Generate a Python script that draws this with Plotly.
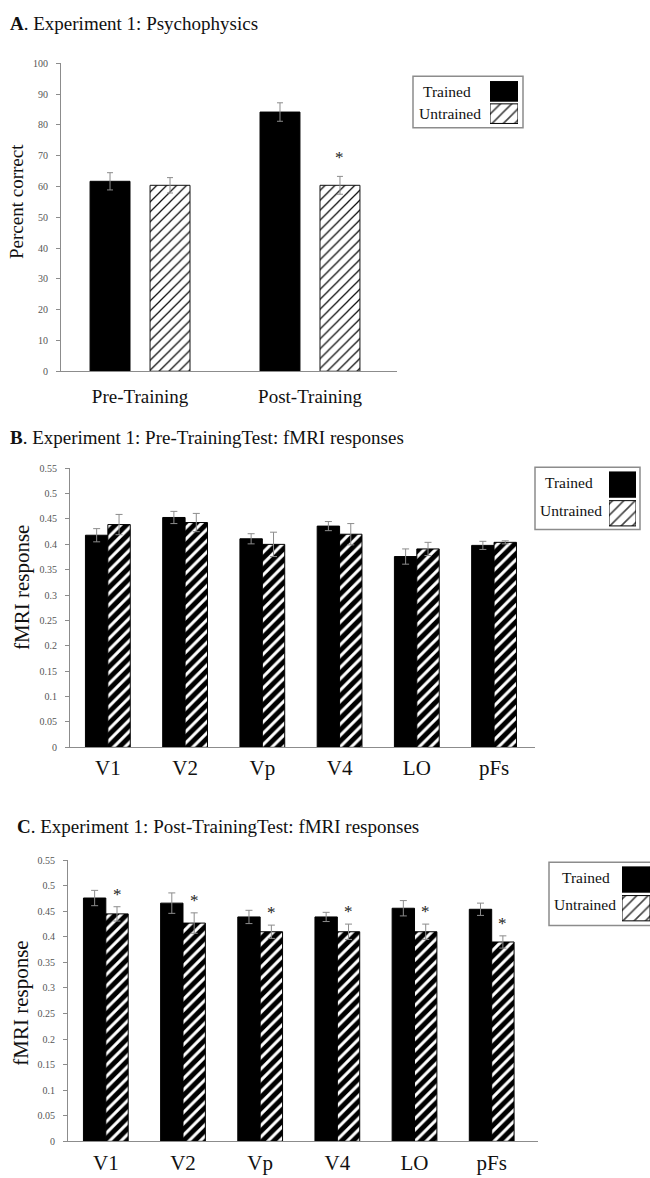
import plotly.graph_objects as go

# ---- data -------------------------------------------------------------
PHASES = ["Pre-Training", "Post-Training"]
A_TRAINED = [61.7, 84.2]
A_TRAINED_ERR = [2.8, 3.0]
A_UNTRAINED = [60.4, 60.4]
A_UNTRAINED_ERR = [2.5, 2.9]
A_SIG = [False, True]

AREAS = ["V1", "V2", "Vp", "V4", "LO", "pFs"]
B_TRAINED = [0.418, 0.453, 0.411, 0.436, 0.376, 0.398]
B_TRAINED_ERR = [0.013, 0.012, 0.010, 0.009, 0.015, 0.008]
B_UNTRAINED = [0.439, 0.443, 0.400, 0.420, 0.391, 0.404]
B_UNTRAINED_ERR = [0.020, 0.018, 0.024, 0.021, 0.013, 0.003]

C_TRAINED = [0.476, 0.466, 0.439, 0.439, 0.456, 0.454]
C_TRAINED_ERR = [0.015, 0.020, 0.013, 0.009, 0.015, 0.012]
C_UNTRAINED = [0.445, 0.427, 0.410, 0.410, 0.410, 0.390]
C_UNTRAINED_ERR = [0.014, 0.020, 0.013, 0.015, 0.015, 0.012]
C_SIG = [True, True, True, True, True, True]

LEGEND_LABELS = ["Trained", "Untrained"]

# ---- page geometry helpers (pixel -> paper) ----------------------------
W, H = 650, 1178
def X(px):
    return min(max(px / W, 0), 1)
def Y(px):
    return min(max(1 - px / H, 0), 1)

SERIF = "Liberation Serif, Times New Roman, serif"
AXIS_GRAY = "#8c8c8c"
TICK_GRAY = "#555555"

fig = go.Figure()

# ---- panel A ------------------------------------------------------------
A_W, A_OFF_T, A_OFF_U = 0.235, -0.294, 0.059
err_a = dict(type="data", color="#8c8c8c", thickness=1, width=3)
fine_hatch = dict(shape="/", size=7, solidity=0.18, fgcolor="#111", fgopacity=1,
                  bgcolor="white")
fig.add_trace(go.Bar(
    x=PHASES, y=A_TRAINED, width=A_W, offset=A_OFF_T,
    error_y=dict(array=A_TRAINED_ERR, **err_a),
    marker=dict(color="black", line=dict(color="black", width=1)),
    xaxis="x", yaxis="y", showlegend=False))
fig.add_trace(go.Bar(
    x=PHASES, y=A_UNTRAINED, width=A_W, offset=A_OFF_U,
    error_y=dict(array=A_UNTRAINED_ERR, **err_a),
    marker=dict(color="white", line=dict(color="#111", width=1), pattern=fine_hatch),
    xaxis="x", yaxis="y", showlegend=False))

# ---- panels B and C -----------------------------------------------------
F_W, F_OFF_T, F_OFF_U = 0.29, -0.29, 0.0
err_f = dict(type="data", color="#8c8c8c", thickness=1, width=3.5)
stripes = dict(shape="/", size=8, solidity=0.62, fgcolor="black", fgopacity=1,
               bgcolor="white")
for ax, tr, tre, un, une in [("2", B_TRAINED, B_TRAINED_ERR, B_UNTRAINED, B_UNTRAINED_ERR),
                             ("3", C_TRAINED, C_TRAINED_ERR, C_UNTRAINED, C_UNTRAINED_ERR)]:
    fig.add_trace(go.Bar(
        x=AREAS, y=tr, width=F_W, offset=F_OFF_T,
        error_y=dict(array=tre, **err_f),
        marker=dict(color="black", line=dict(color="black", width=1)),
        xaxis="x" + ax, yaxis="y" + ax, showlegend=False))
    fig.add_trace(go.Bar(
        x=AREAS, y=un, width=F_W, offset=F_OFF_U,
        error_y=dict(array=une, **err_f),
        marker=dict(color="white", line=dict(color="black", width=1), pattern=stripes),
        xaxis="x" + ax, yaxis="y" + ax, showlegend=False))

# ---- legend keys (small hidden axes holding the two swatches) -----------
key_boxes = {
    "4": dict(x=(490, 518), y=(75, 120)),
    "5": dict(x=(609, 636), y=(469, 527)),
    "6": dict(x=(622, 650), y=(868, 926)),
}
for ax in key_boxes:
    fig.add_trace(go.Bar(
        x=[1, 1], y=[0, 1], orientation="h", width=0.88, base=0,
        marker=dict(color=["black", "white"], line=dict(color="black", width=1),
                    pattern=dict(shape=["", "/"], size=8, solidity=0.2, fgopacity=1,
                                 fgcolor="#111", bgcolor=["black", "white"])),
        cliponaxis=False, hoverinfo="skip",
        xaxis="x" + ax, yaxis="y" + ax, showlegend=False))

# ---- axes ---------------------------------------------------------------
def xcat(domain_px, rng, anchor, size, standoff):
    return dict(domain=[X(domain_px[0]), X(domain_px[1])], range=rng, anchor=anchor,
                type="category", showline=True, linecolor=AXIS_GRAY, linewidth=1,
                ticks="", showgrid=False, zeroline=False,
                tickfont=dict(family=SERIF, size=size, color="#111"),
                ticklabelstandoff=standoff)

def yval(domain_px, rng, dtick, anchor):
    return dict(domain=[Y(domain_px[1]), Y(domain_px[0])], range=rng, anchor=anchor,
                dtick=dtick, tick0=0, showline=True, linecolor=AXIS_GRAY, linewidth=1,
                ticks="outside", ticklen=4, tickcolor=AXIS_GRAY, showgrid=False,
                zeroline=False, tickfont=dict(family=SERIF, size=10, color=TICK_GRAY),
                ticklabelstandoff=6)

layout = dict(
    width=W, height=H, margin=dict(l=0, r=0, t=0, b=0),
    paper_bgcolor="white", plot_bgcolor="white",
    barmode="overlay", showlegend=False,
    xaxis=xcat((61, 397), [-0.465, 1.512], "y", 19, 8),
    yaxis=yval((58, 369), [0, 100], 10, "x"),
    xaxis2=xcat((70, 535), [-0.49, 5.53], "y2", 21, 1),
    yaxis2=yval((467, 749), [0, 0.55], 0.05, "x2"),
    xaxis3=xcat((68, 538), [-0.49, 5.6], "y3", 21, 2),
    yaxis3=yval((863, 1147), [0, 0.55], 0.05, "x3"),
)
for ax, box in key_boxes.items():
    layout["xaxis" + ax] = dict(domain=[X(box["x"][0]), X(box["x"][1])], range=[0, 1],
                                visible=False, anchor="y" + ax, fixedrange=True)
    layout["yaxis" + ax] = dict(domain=[Y(box["y"][1]), Y(box["y"][0])], range=[1.5, -0.5],
                                visible=False, anchor="x" + ax, fixedrange=True)
fig.update_layout(**layout)

# ---- text ---------------------------------------------------------------
ann = []
def text(x, y, s, size, anchor="left", angle=0, color="#111"):
    ann.append(dict(x=X(x), y=Y(y), xref="paper", yref="paper", text=s, showarrow=False,
                    xanchor=anchor, yanchor="middle", textangle=angle,
                    font=dict(family=SERIF, size=size, color=color)))

text(8, 18, "<b>A</b>. Experiment 1: Psychophysics", 19)
text(8, 436, "<b>B</b>. Experiment 1: Pre-TrainingTest: fMRI responses", 19)
text(15, 829, "<b>C</b>. Experiment 1: Post-TrainingTest: fMRI responses", 19)

text(17, 198, "Percent correct", 19, anchor="center", angle=-90)
text(22, 588, "fMRI response", 21, anchor="center", angle=-90)
text(21, 1008, "fMRI response", 21, anchor="center", angle=-90)

# legend boxes with their labels
for (x0, y0, x1, y1), (tx_t, ty_t), (tx_u, ty_u) in [
        ((413, 71, 523, 123), (421, 86), (417, 109)),
        ((535, 466, 640, 529), (543, 481), (538, 510)),
        ((549, 865, 662, 929), (560, 880), (552, 908))]:
    fig.add_shape(type="rect", xref="paper", yref="paper",
                  x0=x0 / W, x1=x1 / W, y0=Y(y1), y1=Y(y0),
                  line=dict(color="#8c8c8c", width=1.5), fillcolor="rgba(0,0,0,0)", layer="below")
    text(tx_t, ty_t, LEGEND_LABELS[0], 15.5)
    text(tx_u, ty_u, LEGEND_LABELS[1], 15.5)

# significance asterisks above the untrained bars
def stars(cats, vals, errs, sig, off, width, xref, yref, shift):
    for i, c in enumerate(cats):
        if sig[i]:
            ann.append(dict(x=i + off + width / 2, y=vals[i] + errs[i], xref=xref, yref=yref,
                            text="*", showarrow=False, xanchor="center", yanchor="bottom",
                            yshift=shift, font=dict(family=SERIF, size=17, color="#222")))

stars(PHASES, A_UNTRAINED, A_UNTRAINED_ERR, A_SIG, A_OFF_U, A_W, "x", "y", 7)
stars(AREAS, C_UNTRAINED, C_UNTRAINED_ERR, C_SIG, F_OFF_U, F_W, "x3", "y3", 1)

fig.update_layout(annotations=ann)
fig.write_html("out.html")
